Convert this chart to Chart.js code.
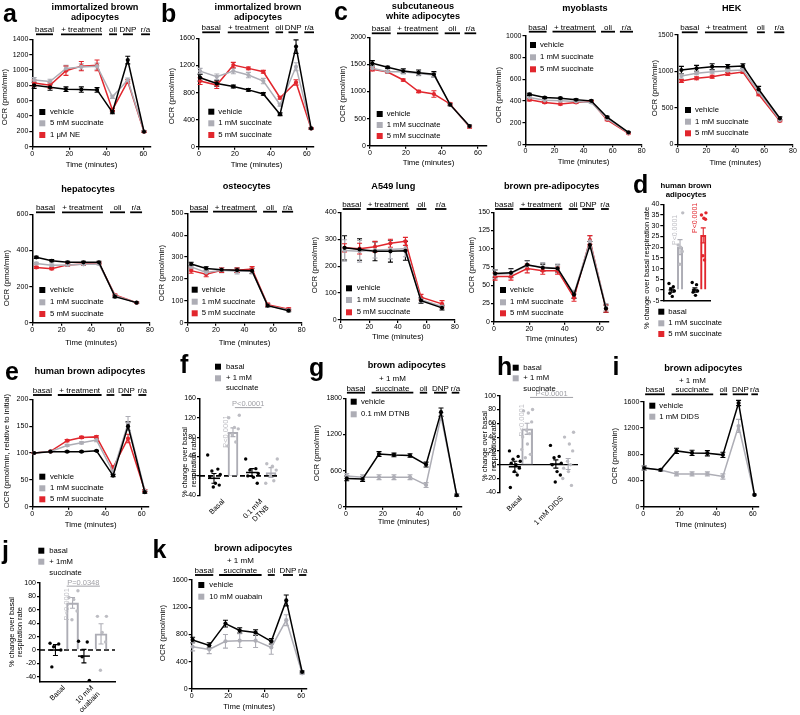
<!DOCTYPE html>
<html><head><meta charset="utf-8">
<script src="https://cdn.jsdelivr.net/npm/chart.js@4"></script>
<style>
html,body{margin:0;padding:0;background:#fff;}
body{width:800px;height:715px;position:relative;overflow:hidden;}
canvas{position:absolute;}
.t{position:absolute;white-space:nowrap;color:#000;}
</style></head><body>
<script>
const FONT = 'Arial, "Liberation Sans", Helvetica, sans-serif';
const BLACK = '#000000', GRAY = '#adadb5', RED = '#e1262d', LGRAY = '#bdbdc3';

// ================= DATA =================
// shared tick labels
const ticksT64 = [0, 20, 40, 60];
const ticksT80 = [0, 20, 40, 60, 80];
const t80 = [2.7, 13.2, 24, 34.8, 45.3, 56.2, 70.9];

// a: immortalized brown adipocytes
const aTime = [1, 9.6, 18.2, 26.5, 35, 43.3, 51.6, 60.4];
const aYTicks = [0, 200, 400, 600, 800, 1000, 1200, 1400];
const aVehicle = [800, 775, 750, 745, 740, 450, 1130, 195];
const aVehicleErr = [40, 40, 30, 35, 30, 20, 50, 10];
const aSucc5 = [870, 850, 1020, 1040, 1050, 650, 870, 200];
const aSucc5Err = [30, 30, 40, 40, 40, 20, 25, 10];
const aNE = [830, 800, 990, 1050, 1060, 480, 850, 195];
const aNEErr = [40, 40, 60, 60, 70, 20, 25, 10];

// b: immortalized brown adipocytes
const bTime = [0.6, 9.9, 19.1, 27.5, 35.8, 45.1, 54, 62.4];
const bYTicks = [0, 400, 800, 1200, 1600];
const bVehicle = [1020, 936, 890, 840, 780, 480, 1480, 270];
const bVehicleErr = [50, 40, 20, 20, 20, 20, 100, 10];
const bSucc1 = [1118, 1034, 1118, 1059, 970, 620, 1182, 270];
const bSucc1Err = [40, 40, 40, 40, 40, 20, 60, 10];
const bSucc5 = [970, 911, 1207, 1158, 1108, 724, 950, 270];
const bSucc5Err = [50, 50, 40, 20, 20, 20, 40, 10];

// c: subcutaneous white adipocytes
const cTime = [1.3, 9.8, 18.5, 27, 35.5, 44.5, 55.3];
const cYTicks = [0, 500, 1000, 1500, 2000];
const cVehicle = [1520, 1446, 1378, 1348, 1317, 757, 363];
const cVehicleErr = [50, 20, 40, 50, 50, 20, 20];
const cSucc1 = [1428, 1366, 1366, 1330, 1305, 757, 355];
const cSucc1Err = [30, 30, 40, 40, 40, 20, 20];
const cSucc5 = [1410, 1360, 1212, 1000, 954, 770, 345];
const cSucc5Err = [30, 20, 20, 20, 60, 20, 20];

// myoblasts
const myoYTicks = [0, 200, 400, 600, 800, 1000];
const myoVehicle = [460, 430, 425, 410, 400, 250, 110];
const myoSucc1 = [430, 405, 400, 395, 385, 235, 105];
const myoSucc5 = [410, 385, 370, 385, 395, 225, 100];
const myoErr = [10, 8, 8, 8, 8, 8, 5];

// HEK
const hekYTicks = [0, 500, 1000, 1500];
const hekVehicle = [1020, 1043, 1065, 1065, 1075, 755, 357];
const hekVehicleErr = [50, 40, 40, 30, 30, 40, 20];
const hekSucc1 = [937, 974, 997, 1010, 1020, 722, 334];
const hekSucc1Err = [30, 20, 20, 20, 20, 20, 10];
const hekSucc5 = [869, 905, 928, 965, 992, 686, 320];
const hekSucc5Err = [20, 20, 20, 20, 20, 20, 10];

// hepatocytes
const hepYTicks = [0, 200, 400, 600];
const hepVehicle = [362, 343, 334, 334, 334, 144, 111];
const hepSucc1 = [328, 318, 320, 323, 325, 150, 110];
const hepSucc5 = [306, 299, 320, 325, 329, 153, 110];
const hepErr = [6, 6, 6, 6, 6, 5, 4];

// osteocytes
const ostYTicks = [0, 100, 200, 300, 400, 500];
const ostVehicle = [268, 248, 242, 240, 237, 78, 55];
const ostVehicleErr = [8, 8, 10, 10, 12, 8, 5];
const ostSucc1 = [255, 230, 240, 235, 235, 78, 58];
const ostSucc1Err = [10, 10, 12, 12, 12, 8, 5];
const ostSucc5 = [238, 222, 240, 240, 245, 82, 62];
const ostSucc5Err = [12, 12, 10, 10, 12, 8, 6];

// A549 lung
const lungYTicks = [0, 100, 200, 300, 400];
const lungVehicle = [268, 262, 255, 255, 257, 72, 45];
const lungVehicleErr = [45, 40, 35, 40, 35, 10, 8];
const lungSucc1 = [258, 255, 260, 262, 265, 75, 50];
const lungSucc1Err = [40, 40, 30, 35, 30, 10, 8];
const lungSucc5 = [268, 265, 272, 285, 292, 85, 60];
const lungSucc5Err = [15, 20, 20, 15, 15, 10, 12];

// brown pre-adipocytes
const preTime = [0.6, 9.6, 18.8, 27.6, 36, 45.3, 54.3, 63.4];
const preYTicks = [0, 25, 50, 75, 100, 125, 150];
const preVehicle = [66, 67, 78, 74, 73, 37, 105, 18];
const preVehicleErr = [5, 6, 6, 5, 5, 5, 5, 5];
const preSucc1 = [65, 66, 77, 75, 73, 38, 110, 20];
const preSucc1Err = [6, 6, 6, 6, 6, 5, 8, 5];
const preSucc5 = [62, 62, 73, 70, 70, 33, 112, 18];
const preSucc5Err = [5, 5, 6, 5, 5, 5, 6, 5];

// d: human brown adipocytes (% change)
const dYTicks = [-5, 0, 5, 10, 15, 20, 25, 30, 35, 40];
const dBasal1 = [3, 1.5, 0.5, -0.5, -1.5, -3];
const dSucc1 = [36, 21, 20, 18, 12];
const dBasal2 = [3.5, 2.5, 0, -0.5, -1, -2.5];
const dSucc5 = [36, 35, 33.5, 33, 16, 14];
const dMeans = [0, 20, 0, 25.5];
const dSems = [1, 3.5, 1, 3.5];

// e: human brown adipocytes (relative OCR)
const eTime = [1, 10, 19.1, 27, 35.2, 44.3, 52.5, 61.7];
const eYTicks = [0, 50, 100, 150, 200];
const eVehicle = [100, 102.5, 102.5, 102.5, 104, 58, 150, 27];
const eVehicleErr = [1, 1, 1, 1, 1, 2, 8, 2];
const eSucc1 = [100, 103, 114, 119, 124, 65, 155, 30];
const eSucc1Err = [1, 1, 2, 2, 3, 3, 13, 2];
const eSucc5 = [100, 103, 123, 129, 130, 73, 127, 30];
const eSucc5Err = [1, 1, 2, 2, 2, 3, 8, 2];

// f: DTNB % change
const fYTicks = [-40, 0, 40, 80, 120, 160];
const fLabels = [['Basal'], ['0.1 mM', 'DTNB']];
const fBasal1 = [43, 14, 10, 3, -2, -15, -19, -23];
const fSucc1 = [125, 120, 100, 97, 85, 70, 62];
const fBasal2 = [35, 15, 12, 5, 0, -3, -15];
const fSucc2 = [35, 25, 20, 12, 0, -10, -15];
const fMeans = [-5, 90, 7, 7];
const fSems = [10, 9, 8, 10];

// g: brown adipocytes DTNB
const gTime = [0.4, 9, 17.9, 26, 34.7, 43.4, 51.5, 60];
const gYTicks = [0, 600, 1200, 1800];
const gVehicle = [470, 460, 875, 860, 850, 700, 1570, 190];
const gVehicleErr = [40, 40, 40, 30, 30, 40, 70, 20];
const gDTNB = [510, 490, 490, 490, 490, 360, 1500, 200];
const gDTNBErr = [40, 40, 40, 40, 40, 40, 60, 20];

// h: DIDS % change
const hYTicks = [-40, -20, 0, 20, 40, 60, 80, 100];
const hLabels = [['Basal'], ['1 mM DIDS']];
const hBasal1 = [20, 12, 8, 5, 2, 0, -5, -10, -15, -33];
const hSucc1 = [80, 78, 75, 62, 50, 45, 40, 30, 22, 15, 10];
const hBasal2 = [28, 12, 10, 2, 0, -10, -15, -25];
const hSucc2 = [47, 40, 30, 20, 5, 0, -5, -10, -20, -30];
const hMeans = [-3, 52, 1, 1];
const hSems = [8, 8, 6, 8];

// i: brown adipocytes DIDS
const iTime = [0.5, 9.5, 18.2, 26.7, 35.1, 43.6, 52.2, 60.9];
const iYTicks = [0, 400, 800, 1200, 1600];
const iVehicle = [590, 560, 850, 820, 815, 790, 1580, 180];
const iVehicleErr = [30, 20, 40, 40, 40, 40, 40, 10];
const iDIDS = [590, 560, 500, 500, 500, 460, 1230, 180];
const iDIDSErr = [30, 20, 30, 30, 30, 40, 100, 10];

// j: ouabain % change
const jYTicks = [-40, -20, 0, 20, 40, 60, 80, 100];
const jLabels = [['Basal'], ['10 mM', 'ouabain']];
const jBasal1 = [10, 9, 5, 0, -25];
const jSucc1 = [88, 78, 75, 58, 45];
const jBasal2 = [13, 12, -10, -45];
const jSucc2 = [50, 50, 26, 12, -30];
const jMeans = [0, 70, -9, 24];
const jSems = [8, 8, 10, 15];

// k: brown adipocytes ouabain
const kTime = [0.5, 9.6, 18.5, 26.3, 35, 43.6, 51.8, 60.5];
const kYTicks = [0, 400, 800, 1200, 1600];
const kVehicle = [720, 640, 960, 860, 830, 700, 1300, 250];
const kVehicleErr = [40, 40, 50, 40, 40, 40, 80, 15];
const kOuabain = [620, 580, 700, 710, 710, 610, 1010, 230];
const kOuabainErr = [60, 60, 100, 100, 100, 100, 80, 15];

// ================= RENDERING =================
Chart.defaults.font.family = FONT;
Chart.defaults.font.size = 7;
Chart.defaults.color = '#000';

const JIT = [-0.9, 0.55, -0.3, 0.9, -0.6, 0.2, 0.75, -0.1, 0.4, -0.75, 0.05];

function mkCanvas(x0, y0, w, h) {
  const c = document.createElement('canvas');
  c.width = w; c.height = h;
  c.style.left = x0 + 'px'; c.style.top = y0 + 'px';
  c.style.width = w + 'px'; c.style.height = h + 'px';
  document.body.appendChild(c);
  return c;
}

function txt(s, x, baseline, size, bold, center) {
  const d = document.createElement('div');
  d.className = 't';
  d.textContent = s;
  d.style.left = x + 'px';
  d.style.top = (baseline - 0.8465 * size) + 'px';
  d.style.font = (bold ? 'bold ' : '') + size + 'px ' + FONT;
  d.style.lineHeight = size + 'px';
  if (center) d.style.transform = 'translateX(-50%)';
  document.body.appendChild(d);
}

function extraPlugin(cfg) {
  return {
    id: 'extra',
    beforeDatasetsDraw(chart) {
      const ctx = chart.ctx, ys = chart.scales.y, ca = chart.chartArea;
      if (cfg.zero) {
        ctx.save();
        ctx.strokeStyle = '#000'; ctx.lineWidth = cfg.zero.w;
        ctx.setLineDash(cfg.zero.dash || []);
        const y = ys.getPixelForValue(0);
        ctx.beginPath(); ctx.moveTo(ca.left, y); ctx.lineTo(ca.right, y); ctx.stroke();
        ctx.restore();
      }
      chart.data.datasets.forEach((ds, di) => {
        if (!ds.err) return;
        const meta = chart.getDatasetMeta(di);
        ctx.save();
        ctx.strokeStyle = ds.errColor || ds.borderColor || '#000';
        ctx.lineWidth = ds.errWidth || 1.1;
        const c = ds.cap || 2.5;
        meta.data.forEach((el, i) => {
          const e = ds.err[i]; if (e == null || e === 0) return;
          const v = ds.data[i].y, x = el.x;
          const ya = ys.getPixelForValue(v + e), yb = ys.getPixelForValue(v - e);
          ctx.beginPath();
          ctx.moveTo(x, ya); ctx.lineTo(x, yb);
          ctx.moveTo(x - c, ya); ctx.lineTo(x + c, ya);
          ctx.moveTo(x - c, yb); ctx.lineTo(x + c, yb);
          ctx.stroke();
        });
        ctx.restore();
      });
    },
    afterDraw(chart) {
      const ctx = chart.ctx, xs = chart.scales.x, ys = chart.scales.y;
      const [ox, oy] = cfg.origin;
      ctx.save();
      // phases
      if (cfg.phases) {
        ctx.strokeStyle = '#000'; ctx.fillStyle = '#000'; ctx.lineWidth = 1.8;
        ctx.font = '8px ' + FONT; ctx.textAlign = 'center'; ctx.textBaseline = 'alphabetic';
        const by = cfg.phases.barY - oy;
        cfg.phases.items.forEach(it => {
          const a = xs.getPixelForValue(it.x0), b = xs.getPixelForValue(it.x1);
          ctx.beginPath(); ctx.moveTo(a, by); ctx.lineTo(b, by); ctx.stroke();
          const lines = Array.isArray(it.text) ? it.text : [it.text];
          lines.forEach((s, k) => ctx.fillText(s, (a + b) / 2, by - 2.2 - (lines.length - 1 - k) * 9.5));
        });
      }
      // legend
      if (cfg.legend) {
        const L = cfg.legend, s = L.box || 6;
        ctx.font = (L.size || 7.7) + 'px ' + FONT; ctx.textAlign = 'left'; ctx.textBaseline = 'middle';
        L.rows.forEach(r => {
          const y = r.y - oy;
          if (r.color) { ctx.fillStyle = r.color; ctx.fillRect(L.x - ox, y - s / 2, s, s); }
          ctx.fillStyle = '#000'; ctx.fillText(r.text, L.tx - ox, y);
        });
      }
      // axis titles
      if (cfg.yTitle) {
        const T = cfg.yTitle;
        ctx.font = (T.size || 7.8) + 'px ' + FONT; ctx.fillStyle = '#000';
        ctx.textAlign = 'center'; ctx.textBaseline = 'middle';
        T.lines.forEach((s, k) => {
          ctx.save();
          ctx.translate(T.x - ox + k * (T.gap || 8.5), T.y - oy);
          ctx.rotate(-Math.PI / 2);
          ctx.fillText(s, 0, 0);
          ctx.restore();
        });
      }
      if (cfg.xTitle) {
        const T = cfg.xTitle;
        ctx.font = (T.size || 7.8) + 'px ' + FONT; ctx.fillStyle = '#000';
        ctx.textAlign = 'center'; ctx.textBaseline = 'middle';
        ctx.fillText(T.text, T.x - ox, T.y - oy);
      }
      // vertical p-value texts
      (cfg.vtexts || []).forEach(v => {
        ctx.save();
        ctx.font = (v.size || 7.5) + 'px ' + FONT; ctx.fillStyle = v.color;
        ctx.textAlign = 'left'; ctx.textBaseline = 'middle';
        ctx.translate(xs.getPixelForValue(v.x), ys.getPixelForValue(v.y));
        ctx.rotate(-Math.PI / 2);
        ctx.fillText(v.text, 0, 0);
        ctx.restore();
      });
      // brackets
      (cfg.brackets || []).forEach(b => {
        const a = xs.getPixelForValue(b.x0), e = xs.getPixelForValue(b.x1), y = ys.getPixelForValue(b.y);
        ctx.strokeStyle = b.color; ctx.lineWidth = 1;
        ctx.beginPath(); ctx.moveTo(a, y); ctx.lineTo(e, y); ctx.stroke();
        ctx.font = (b.size || 7.5) + 'px ' + FONT; ctx.fillStyle = b.color;
        ctx.textAlign = 'center'; ctx.textBaseline = 'alphabetic';
        ctx.fillText(b.text, (a + e) / 2, y - 1.5);
      });
      ctx.restore();
    }
  };
}

function axisOpts(min, max, ticks, fit, extra) {
  const o = {
    type: 'linear', min, max, offset: false,
    afterBuildTicks: s => { s.ticks = ticks.map(v => ({ value: v })); },
    afterFit: fit,
    ticks: { font: { size: 7 }, autoSkip: false, color: '#000', callback: v => String(v) },
    grid: { display: true, drawOnChartArea: false, drawTicks: true, tickLength: 3, color: '#000', lineWidth: 1.2, offset: false },
    border: { display: true, color: '#000', width: 1.5 }
  };
  return Object.assign(o, extra || {});
}

function linePanel(p) {
  const [l, t, r, b] = p.rect;
  const x0 = Math.max(0, Math.floor(Math.min(p.yTitleX - 8, l - 30)));
  const y0 = Math.floor(Math.min(p.phases.barY - 22, t - 8));
  const x1 = Math.ceil(r + 10);
  const y1 = Math.min(715, Math.ceil(Math.max(p.xTitleY + 7, b + 18)));
  const cv = mkCanvas(x0, y0, x1 - x0, y1 - y0);
  const datasets = p.series.map(s => ({
    label: s.label,
    data: p.times.map((tt, i) => ({ x: tt, y: s.values[i] })),
    err: s.err, errColor: s.color,
    borderColor: s.color, backgroundColor: s.color,
    pointBackgroundColor: s.color, pointBorderWidth: 0, pointRadius: 2.1,
    borderWidth: 1.5, showLine: true, clip: false, tension: 0
  }));
  const cfg = {
    origin: [x0, y0],
    phases: p.phases,
    legend: { x: p.legend.x, tx: p.legend.tx, rows: p.series.map((s, i) => ({ color: s.color, text: s.label, y: p.legend.ys[i] })) },
    yTitle: { lines: [p.yTitle || 'OCR (pmol/min)'], x: p.yTitleX, y: p.yTitleY != null ? p.yTitleY : (t + b) / 2 },
    xTitle: { text: 'Time (minutes)', x: p.xTitleX != null ? p.xTitleX : (l + r) / 2, y: p.xTitleY }
  };
  new Chart(cv, {
    type: 'scatter',
    data: { datasets },
    options: {
      responsive: false, animation: false, events: [],
      layout: { padding: { left: 0, top: t - y0, right: x1 - r, bottom: 0 } },
      scales: {
        x: axisOpts(p.xMin, p.xMax, p.xTicks, s => { s.height = y1 - b; },
          { ticks: { font: { size: 7 }, autoSkip: false, color: '#000', padding: 0, maxRotation: 0, minRotation: 0, callback: v => String(v) } }),
        y: axisOpts(p.yMin, p.yMax, p.yTicks, s => { s.width = l - x0; },
          { ticks: { font: { size: 7 }, autoSkip: false, color: '#000', padding: 1, callback: v => String(v) } })
      },
      plugins: { legend: { display: false }, tooltip: { enabled: false } }
    },
    plugins: [extraPlugin(cfg)]
  });
}

function barPanel(p) {
  const [l, t, r, b] = p.rect;
  const [x0, y0, x1, y1] = p.box;
  const cv = mkCanvas(x0, y0, x1 - x0, y1 - y0);
  const upx = (r - l) / (p.xMax - p.xMin);
  const spread = p.spreadPx / upx, off = p.offset;
  const datasets = [];
  p.groups.forEach((g, gi) => {
    datasets.push({ type: 'scatter', data: [{ x: gi + 1 - off, y: g.bMean }], pointStyle: 'line',
      pointRadius: p.meanHalf, pointBorderColor: '#000', pointBorderWidth: 1.5, pointBackgroundColor: '#000',
      err: [g.bErr], errColor: '#000', clip: false });
  });
  p.groups.forEach((g, gi) => {
    datasets.push({ type: 'scatter', data: g.bDots.map((v, k) => ({ x: gi + 1 - off + JIT[k % JIT.length] * spread, y: v })),
      pointRadius: 1.7, pointBackgroundColor: '#000', pointBorderWidth: 0, clip: false });
    datasets.push({ type: 'scatter', data: g.tDots.map((v, k) => ({ x: gi + 1 + off + JIT[(k + 3) % JIT.length] * spread, y: v })),
      pointRadius: 1.7, pointBackgroundColor: g.dotColor, pointBorderWidth: 0, clip: false });
  });
  p.groups.forEach((g, gi) => {
    datasets.push({ type: 'bar', data: [{ x: gi + 1 + off, y: g.tMean }], backgroundColor: 'rgba(255,255,255,0)',
      borderColor: g.color, borderWidth: 1.4, barThickness: p.barPx, grouped: false,
      err: [g.tErr], errColor: g.color, clip: false });
  });
  const cfg = {
    origin: [x0, y0],
    legend: p.legend,
    yTitle: p.yTitle,
    zero: p.zero, vtexts: p.vtexts, brackets: p.brackets
  };
  const xt = {
    type: 'linear', min: p.xMin, max: p.xMax, offset: false, bounds: 'ticks',
    afterBuildTicks: s => { s.ticks = (p.xLabels ? [1, 2] : []).map(v => ({ value: v })); },
    afterFit: s => { s.height = y1 - b; },
    ticks: { display: !!p.xLabels, font: { size: 7.3 }, autoSkip: false, color: '#000', padding: 2,
      maxRotation: 45, minRotation: 45, callback: (v, i) => p.xLabels ? p.xLabels[i] : '' },
    grid: { display: false, drawOnChartArea: false, drawTicks: false, offset: false },
    border: { display: !!p.xBorder, color: '#000', width: 1.5 }
  };
  new Chart(cv, {
    type: 'scatter',
    data: { datasets },
    options: {
      responsive: false, animation: false, events: [],
      layout: { padding: { left: 0, top: t - y0, right: x1 - r, bottom: 0 } },
      scales: {
        x: xt,
        y: axisOpts(p.yMin, p.yMax, p.yTicks, s => { s.width = l - x0; },
          { ticks: { font: { size: 7 }, autoSkip: false, color: '#000', padding: 1, callback: v => String(v) } })
      },
      plugins: { legend: { display: false }, tooltip: { enabled: false } }
    },
    plugins: [extraPlugin(cfg)]
  });
}

const S3 = (v, e1, v2, e2, v3, e3, l1, l2, l3) => [
  { label: l1, color: BLACK, values: v, err: e1 },
  { label: l2, color: GRAY, values: v2, err: e2 },
  { label: l3, color: RED, values: v3, err: e3 }];

const P64 = (b0,b1,t0,t1,o0,o1,d0,d1,r0,r1,two) => [
  { text: 'basal', x0: b0, x1: b1 }, { text: two ? ['+ 1 mM', 'succinate'] : '+ treatment', x0: t0, x1: t1 },
  { text: 'oli', x0: o0, x1: o1 }, { text: 'DNP', x0: d0, x1: d1 }, { text: 'r/a', x0: r0, x1: r1 }];
const P80 = (b0,b1,t0,t1,o0,o1,r0,r1) => [
  { text: 'basal', x0: b0, x1: b1 }, { text: '+ treatment', x0: t0, x1: t1 },
  { text: 'oli', x0: o0, x1: o1 }, { text: 'r/a', x0: r0, x1: r1 }];

// a
linePanel({ rect: [32.3, 39.3, 150.7, 146.7], xMin: 0, xMax: 64, xTicks: ticksT64, yMin: 0, yMax: 1400, yTicks: aYTicks,
  times: aTime, series: S3(aVehicle, aVehicleErr, aSucc5, aSucc5Err, aNE, aNEErr, 'vehicle', '5 mM succinate', '1 μM NE'),
  phases: { barY: 34.3, items: P64(2, 11.2, 15.5, 37.7, 41.5, 45.8, 49, 54.4, 58.8, 63.6) },
  legend: { x: 39.3, tx: 50, ys: [112, 123.3, 135] }, yTitleX: 5, yTitleY: 97, xTitleY: 165 });
// b
linePanel({ rect: [199, 38.5, 314, 146.7], xMin: 0, xMax: 64, xTicks: ticksT64, yMin: 0, yMax: 1600, yTicks: bYTicks,
  times: bTime, series: S3(bVehicle, bVehicleErr, bSucc1, bSucc1Err, bSucc5, bSucc5Err, 'vehicle', '1 mM succinate', '5 mM succinate'),
  phases: { barY: 32.3, items: P64(1.8, 11.7, 16, 39, 42.6, 46.8, 49.8, 55, 58.6, 64) },
  legend: { x: 208.3, tx: 218.3, ys: [111.7, 123.3, 135] }, yTitleX: 171.7, yTitleY: 96, xTitleY: 165 });
// c
linePanel({ rect: [370, 37.3, 487, 145.7], xMin: 0, xMax: 65, xTicks: ticksT64, yMin: 0, yMax: 2000, yTicks: cYTicks,
  times: cTime, series: S3(cVehicle, cVehicleErr, cSucc1, cSucc1Err, cSucc5, cSucc5Err, 'vehicle', '1 mM succinate', '5 mM succinate'),
  phases: { barY: 33.3, items: [{ text: 'basal', x0: 1, x1: 11.5 }, { text: '+ treatment', x0: 15, x1: 38 }, { text: 'oli', x0: 41.5, x1: 50 }, { text: 'r/a', x0: 52.5, x1: 59 }] },
  legend: { x: 376.7, tx: 386.7, ys: [114, 125, 136] }, yTitleX: 342.7, yTitleY: 94, xTitleY: 162.7 });
// myoblasts
linePanel({ rect: [525.5, 35.7, 641.7, 144.3], xMin: 0, xMax: 80, xTicks: ticksT80, yMin: 0, yMax: 1000, yTicks: myoYTicks,
  times: t80, series: S3(myoVehicle, myoErr, myoSucc1, myoErr, myoSucc5, myoErr, 'vehicle', '1 mM succinate', '5 mM succinate'),
  phases: { barY: 31.7, items: P80(2.3, 14.5, 18.6, 48.5, 52, 61.6, 65, 74) },
  legend: { x: 530, tx: 540, ys: [45, 57.3, 69.3] }, yTitleX: 499, yTitleY: 95, xTitleY: 161.7 });
// HEK
linePanel({ rect: [677.5, 35, 793, 144.3], xMin: 0, xMax: 80, xTicks: ticksT80, yMin: 0, yMax: 1500, yTicks: hekYTicks,
  times: t80, series: S3(hekVehicle, hekVehicleErr, hekSucc1, hekSucc1Err, hekSucc5, hekSucc5Err, 'vehicle', '1 mM succinate', '5 mM succinate'),
  phases: { barY: 32.3, items: P80(3, 14, 19, 48.5, 55, 60.5, 67, 74) },
  legend: { x: 685, tx: 695, ys: [110, 121.7, 133.3] }, yTitleX: 655, yTitleY: 88, xTitleY: 162.7 });
// hepatocytes
linePanel({ rect: [32.3, 214.3, 150, 322.7], xMin: 0, xMax: 80, xTicks: ticksT80, yMin: 0, yMax: 600, yTicks: hepYTicks,
  times: t80, series: S3(hepVehicle, hepErr, hepSucc1, hepErr, hepSucc5, hepErr, 'vehicle', '1 mM succinate', '5 mM succinate'),
  phases: { barY: 212.3, items: P80(2.5, 15.4, 20.2, 48, 52.8, 63, 66.5, 74.6) },
  legend: { x: 39.3, tx: 50, ys: [290, 302.3, 314] }, yTitleX: 6.7, yTitleY: 278, xTitleY: 342.7 });
// osteocytes
linePanel({ rect: [187.3, 213.3, 301.7, 322.7], xMin: 0, xMax: 80, xTicks: ticksT80, yMin: 0, yMax: 500, yTicks: ostYTicks,
  times: t80, series: S3(ostVehicle, ostVehicleErr, ostSucc1, ostSucc1Err, ostSucc5, ostSucc5Err, 'vehicle', '1 mM succinate', '5 mM succinate'),
  phases: { barY: 211.7, items: P80(1.9, 14.5, 18, 48.7, 53, 62.7, 66.2, 74) },
  legend: { x: 191.7, tx: 201.7, ys: [289.7, 301.7, 313.3] }, yTitleX: 161.7, yTitleY: 273, xTitleY: 342.7 });
// A549 lung
linePanel({ rect: [340.7, 212.3, 455, 320], xMin: 0, xMax: 80, xTicks: ticksT80, yMin: 0, yMax: 400, yTicks: lungYTicks,
  times: t80, series: S3(lungVehicle, lungVehicleErr, lungSucc1, lungSucc1Err, lungSucc5, lungSucc5Err, 'vehicle', '1 mM succinate', '5 mM succinate'),
  phases: { barY: 209, items: P80(1.4, 14, 18.2, 48, 53, 60, 66, 74) },
  legend: { x: 346, tx: 356.7, ys: [288.3, 300, 312.3] }, yTitleX: 315, yTitleY: 265, xTitleY: 336.7 });
// brown pre-adipocytes
linePanel({ rect: [494, 212.3, 608.8, 321.7], xMin: 0, xMax: 65, xTicks: ticksT64, yMin: 0, yMax: 150, yTicks: preYTicks,
  times: preTime, series: S3(preVehicle, preVehicleErr, preSucc1, preSucc1Err, preSucc5, preSucc5Err, 'vehicle', '1 mM succinate', '5 mM succinate'),
  phases: { barY: 209, items: P64(0.6, 10.9, 14.5, 38.7, 42.3, 47.4, 50, 56.7, 60.6, 65) },
  legend: { x: 500, tx: 510, ys: [290, 302.3, 313.3] }, yTitleX: 471.7, yTitleY: 265, xTitleY: 339.3 });
// e
linePanel({ rect: [32.3, 399.3, 149, 506.7], xMin: 0, xMax: 64, xTicks: ticksT64, yMin: 0, yMax: 200, yTicks: eYTicks,
  times: eTime, series: S3(eVehicle, eVehicleErr, eSucc1, eSucc1Err, eSucc5, eSucc5Err, 'vehicle', '1 mM succinate', '5 mM succinate'),
  phases: { barY: 395, items: P64(0.4, 10.7, 14, 38, 40.7, 45, 48.9, 54.3, 58.2, 62.5) },
  legend: { x: 39.3, tx: 50, ys: [476.7, 488.3, 499.3] }, yTitle: 'OCR (pmol/min, relative to initial)', yTitleX: 6.7, yTitleY: 451, xTitleY: 525 });
// g
linePanel({ rect: [346, 398.3, 461.3, 506.7], xMin: 0, xMax: 62.5, xTicks: ticksT64, yMin: 0, yMax: 1800, yTicks: gYTicks,
  times: gTime, series: [{ label: 'vehicle', color: BLACK, values: gVehicle, err: gVehicleErr }, { label: '0.1 mM DTNB', color: GRAY, values: gDTNB, err: gDTNBErr }],
  phases: { barY: 392.7, items: P64(0.5, 10.3, 13.9, 36.5, 40, 44, 47.7, 54.6, 57.3, 61.4, true) },
  legend: { x: 350.7, tx: 361, ys: [401.7, 414.3] }, yTitleX: 316.7, yTitleY: 453, xTitleY: 521.7 });
// i
linePanel({ rect: [643.3, 401.7, 758.3, 506.7], xMin: 0, xMax: 63, xTicks: ticksT64, yMin: 0, yMax: 1600, yTicks: iYTicks,
  times: iTime, series: [{ label: 'vehicle', color: BLACK, values: iVehicle, err: iVehicleErr }, { label: '1 mM DIDS', color: GRAY, values: iDIDS, err: iDIDSErr }],
  phases: { barY: 394.3, items: P64(1, 11.8, 15.5, 38.3, 42, 46, 49, 57.4, 59.2, 62.8, true) },
  legend: { x: 649.3, tx: 659.3, ys: [405.7, 416.7] }, yTitleX: 615, yTitleY: 456, xTitleY: 525 });
// k
linePanel({ rect: [191.7, 580, 306.7, 689], xMin: 0, xMax: 63, xTicks: ticksT64, yMin: 0, yMax: 1600, yTicks: kYTicks,
  times: kTime, series: [{ label: 'vehicle', color: BLACK, values: kVehicle, err: kVehicleErr }, { label: '10 mM ouabain', color: GRAY, values: kOuabain, err: kOuabainErr }],
  phases: { barY: 575, items: P64(1.8, 11.8, 15, 38.3, 41.7, 45.5, 50, 55.5, 58.8, 62.8, true) },
  legend: { x: 198.3, tx: 209.3, ys: [585, 596.7] }, yTitleX: 163.3, yTitleY: 633, xTitleY: 706.7 });

// d
barPanel({ rect: [663.3, 204.3, 710, 300.7], box: [638, 198, 760, 342], xMin: 0.46, xMax: 2.47, yMin: -5, yMax: 40, yTicks: dYTicks,
  xLabels: null, xBorder: true, offset: 0.18, spreadPx: 3, barPx: 5.5, meanHalf: 3,
  groups: [
    { bDots: dBasal1, bMean: dMeans[0], bErr: dSems[0], tDots: dSucc1, tMean: dMeans[1], tErr: dSems[1], color: GRAY, dotColor: LGRAY },
    { bDots: dBasal2, bMean: dMeans[2], bErr: dSems[2], tDots: dSucc5, tMean: dMeans[3], tErr: dSems[3], color: RED, dotColor: RED }],
  legend: { x: 658.3, tx: 668.3, size: 7.7, rows: [{ color: BLACK, text: 'basal', y: 311.7 }, { color: GRAY, text: '1 mM succinate', y: 323.3 }, { color: RED, text: '5 mM succinate', y: 334 }] },
  yTitle: { lines: ['% change over basal respiration rate'], x: 647.3, y: 268, size: 7.5 },
  vtexts: [{ text: 'P<0.0001', x: 0.96, y: 21, color: LGRAY, size: 7 }, { text: 'P<0.0001', x: 1.82, y: 26.6, color: RED, size: 7 }] });
// f
barPanel({ rect: [200, 398.3, 280, 495.3], box: [178, 360, 290, 532], xMin: 0.382, xMax: 2.487, yMin: -40, yMax: 160, yTicks: fYTicks,
  xLabels: fLabels, xBorder: false, offset: 0.25, spreadPx: 7, barPx: 10, meanHalf: 6,
  groups: [
    { bDots: fBasal1, bMean: fMeans[0], bErr: fSems[0], tDots: fSucc1, tMean: fMeans[1], tErr: fSems[1], color: GRAY, dotColor: LGRAY },
    { bDots: fBasal2, bMean: fMeans[2], bErr: fSems[2], tDots: fSucc2, tMean: fMeans[3], tErr: fSems[3], color: GRAY, dotColor: LGRAY }],
  zero: { w: 1.6, dash: [5, 3] },
  legend: { x: 215, tx: 226, size: 7.7, rows: [{ color: BLACK, text: 'basal', y: 366.7 }, { color: GRAY, text: '+ 1 mM', y: 378.3 }, { color: null, text: 'succinate', y: 388.3 }] },
  yTitle: { lines: ['% change over basal', 'respiration rate'], x: 185, y: 462, size: 7.5, gap: 8.5 },
  vtexts: [{ text: 'P<0.0001', x: 1.066, y: 58, color: LGRAY, size: 7.5 }],
  brackets: [{ x0: 1.3, x1: 2.0, y: 140.8, text: 'P<0.0001', color: '#a0a0a6', size: 7.5 }] });
// h
barPanel({ rect: [500, 395.7, 578, 492.3], box: [478, 360, 590, 532], xMin: 0.488, xMax: 2.39, yMin: -40, yMax: 100, yTicks: hYTicks,
  xLabels: hLabels, xBorder: false, offset: 0.15, spreadPx: 6, barPx: 11, meanHalf: 6,
  groups: [
    { bDots: hBasal1, bMean: hMeans[0], bErr: hSems[0], tDots: hSucc1, tMean: hMeans[1], tErr: hSems[1], color: GRAY, dotColor: LGRAY },
    { bDots: hBasal2, bMean: hMeans[2], bErr: hSems[2], tDots: hSucc2, tMean: hMeans[3], tErr: hSems[3], color: GRAY, dotColor: LGRAY }],
  zero: { w: 1.2 },
  legend: { x: 512.7, tx: 523.3, size: 7.7, rows: [{ color: BLACK, text: 'basal', y: 367.7 }, { color: GRAY, text: '+ 1 mM', y: 378.3 }, { color: null, text: 'succinate', y: 388.7 }] },
  yTitle: { lines: ['% change over basal', 'respiration rate'], x: 485, y: 446, size: 7.5, gap: 8.5 },
  vtexts: [{ text: 'P<0.0001', x: 1.017, y: 41, color: LGRAY, size: 7.5 }],
  brackets: [{ x0: 1.22, x1: 2.27, y: 97.5, text: 'P<0.0001', color: '#a0a0a6', size: 7.5 }] });
// j
barPanel({ rect: [40, 582.7, 115, 681.7], box: [3, 543, 125, 715], xMin: 0.158, xMax: 2.79, yMin: -47, yMax: 100, yTicks: jYTicks,
  xLabels: jLabels, xBorder: true, offset: 0.3, spreadPx: 6, barPx: 12, meanHalf: 6,
  groups: [
    { bDots: jBasal1, bMean: jMeans[0], bErr: jSems[0], tDots: jSucc1, tMean: jMeans[1], tErr: jSems[1], color: GRAY, dotColor: LGRAY },
    { bDots: jBasal2, bMean: jMeans[2], bErr: jSems[2], tDots: jSucc2, tMean: jMeans[3], tErr: jSems[3], color: GRAY, dotColor: LGRAY }],
  zero: { w: 1.6, dash: [5, 3] },
  legend: { x: 38.3, tx: 49.3, size: 7.7, rows: [{ color: BLACK, text: 'basal', y: 550.7 }, { color: GRAY, text: '+ 1mM', y: 561.7 }, { color: null, text: 'succinate', y: 572.7 }] },
  yTitle: { lines: ['% change over basal', 'respiration rate'], x: 11.7, y: 632, size: 7.5, gap: 8.3 },
  vtexts: [{ text: 'P<0.0001', x: 1.095, y: 44, color: LGRAY, size: 7.5 }],
  brackets: [{ x0: 1.095, x1: 2.26, y: 94.9, text: 'P=0.0348', color: '#a0a0a6', size: 7.5 }] });

// panel letters
[['a', 3, 21.7], ['b', 161, 21.7], ['c', 334, 20.5], ['d', 633, 193.3], ['e', 5, 380], ['f', 180, 373.3],
 ['g', 309, 375.8], ['h', 497, 375], ['i', 612.5, 375], ['j', 2, 559], ['k', 152.5, 558.3]]
  .forEach(([s, x, y]) => txt(s, x, y, 25, true, false));

// panel titles
[['immortalized brown', 95, 11], ['adipocytes', 95, 20.5],
 ['immortalized brown', 258, 11], ['adipocytes', 258, 20.5],
 ['subcutaneous', 423, 9.8], ['white adipocytes', 423, 20],
 ['myoblasts', 585, 11.5], ['HEK', 731.7, 12],
 ['hepatocytes', 88, 193], ['osteocytes', 246.7, 190], ['A549 lung', 393.3, 190], ['brown pre-adipocytes', 551.7, 190],
 ['human brown adipocytes', 90, 375], ['brown adipocytes', 406.7, 369], ['brown adipocytes', 703.3, 372], ['brown adipocytes', 253.3, 552]]
  .forEach(([s, x, y]) => txt(s, x, y, 9.2, true, true));
[['human brown', 686, 189], ['adipocytes', 686, 197.5]].forEach(([s, x, y]) => txt(s, x, y, 7.8, true, true));
</script>
</body></html>
